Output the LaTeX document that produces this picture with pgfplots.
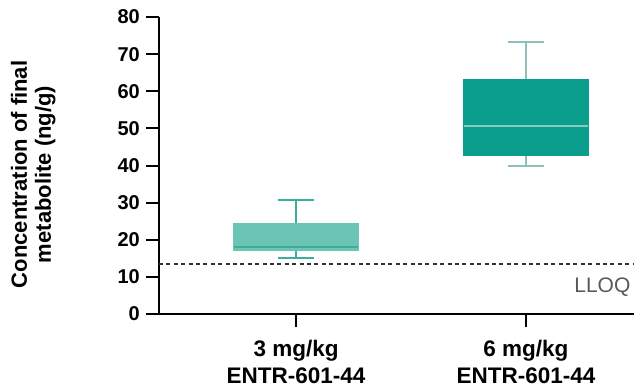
\documentclass[border=0pt]{standalone}
\usepackage{pgfplots}
\pgfplotsset{compat=1.18}
\usepackage{fontspec}
\setmainfont{Liberation Sans}
\definecolor{boxAfill}{HTML}{6CC4B4}
\definecolor{boxAedge}{HTML}{3AAE9B}
\definecolor{boxBfill}{HTML}{0B9E8D}
\definecolor{boxBmed}{HTML}{86CBBF}
\definecolor{boxBwhisk}{HTML}{8FBFB9}
\begin{document}
\begin{tikzpicture}
\begin{axis}[
  at={(0,0)}, anchor=south west,
  scale only axis, width=475pt, height=297pt,
  xmin=-0.596, xmax=1.47, ymin=0, ymax=80,
  axis x line*=bottom, axis y line*=left,
  axis line style={line width=2pt, black},
  tick style={line width=2pt, black},
  tick align=outside, major tick length=13pt,
  xtick={0,1},
  xticklabels={{3 mg/kg\\ENTR-601-44},{6 mg/kg\\ENTR-601-44}},
  xticklabel style={align=center, font=\fontsize{22.5}{27}\selectfont\bfseries, inner sep=2pt, yshift=-11pt},
  ytick={0,10,20,30,40,50,60,70,80},
  yticklabel style={font=\fontsize{20}{24}\selectfont\bfseries, inner sep=2pt, xshift=-4pt},
  /pgf/number format/assume math mode=true,
  ylabel={Concentration of final\\metabolite (ng/g)},
  ylabel style={at={(axis description cs:-0.265,0.47)}, anchor=center, align=center,
    font=\fontsize{22}{24}\selectfont\bfseries},
  clip=false,
]
\addplot[line width=1.3pt, color=black!80, dash pattern=on 4pt off 3.4pt]
  coordinates {(-0.596,13.5) (1.47,13.5)};
\node[anchor=north east, font=\fontsize{21}{24}\selectfont, text=black!65, inner sep=0pt]
  at (axis cs:1.455,9.9) {LLOQ};
% group 1 (3 mg/kg): whiskers, box, median
\addplot[draw=boxAedge, line width=1.8pt] coordinates {(0,15.1) (0,30.7)};
\addplot[draw=boxAedge, line width=1.8pt] coordinates {(-0.08,30.7) (0.08,30.7)};
\addplot[draw=boxAedge, line width=1.8pt] coordinates {(-0.08,15.1) (0.08,15.1)};
\addplot[fill=boxAfill, draw=boxAfill, line width=1pt]
  coordinates {(-0.27,17.0) (0.27,17.0) (0.27,24.5) (-0.27,24.5)} -- cycle;
\addplot[draw=boxAedge, line width=1.8pt] coordinates {(-0.27,18.1) (0.27,18.1)};
% group 2 (6 mg/kg)
\addplot[draw=boxBwhisk, line width=1.8pt] coordinates {(1,39.9) (1,73.3)};
\addplot[draw=boxBwhisk, line width=1.8pt] coordinates {(0.92,73.3) (1.08,73.3)};
\addplot[draw=boxBwhisk, line width=1.8pt] coordinates {(0.92,39.9) (1.08,39.9)};
\addplot[fill=boxBfill, draw=boxBfill, line width=1pt]
  coordinates {(0.73,42.6) (1.27,42.6) (1.27,63.1) (0.73,63.1)} -- cycle;
\addplot[draw=boxBmed, line width=1.5pt] coordinates {(0.73,50.7) (1.27,50.7)};
\end{axis}
\pgfresetboundingbox
\useasboundingbox (-159pt,-74pt) rectangle (475pt,314pt);
\end{tikzpicture}
\end{document}
